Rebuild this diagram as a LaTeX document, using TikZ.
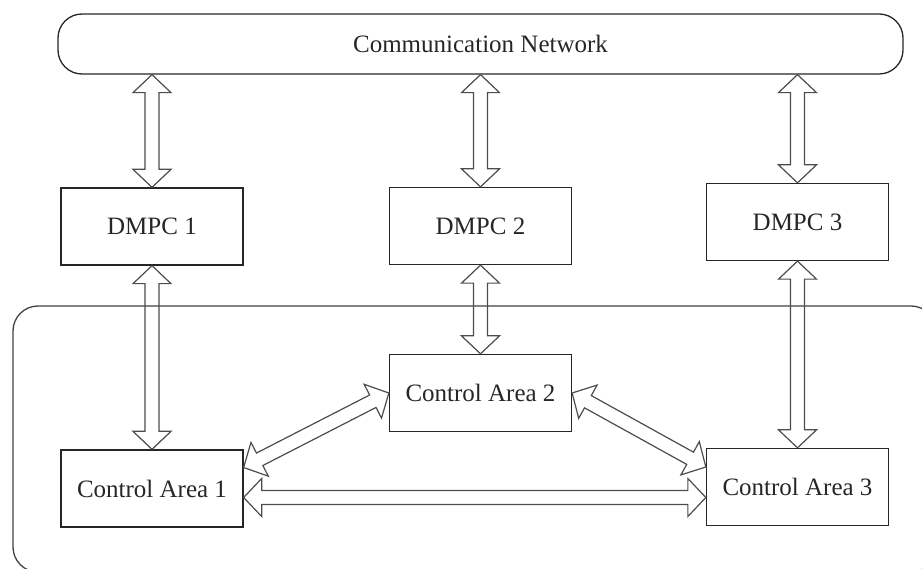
\documentclass[tikz,border=0pt]{standalone}
\usepackage{fontspec}
\setmainfont{Liberation Serif}
\usetikzlibrary{calc}
\tikzset{
  lbl/.style={font=\fontsize{25}{30}\selectfont, text=black!85},
  box/.style={lbl, draw=black!85, line width=1.3pt, minimum width=182pt, minimum height=77pt, inner sep=0pt},
  dbl/.style={draw=black!70, line width=1.2pt, line join=miter,
    to path={let \p1=(\tikztostart), \p2=(\tikztotarget),
      \n1={atan2(\y2-\y1,\x2-\x1)} in
      -- ($(\p1)+(\n1:18pt)+(\n1+90:19pt)$)
      -- ($(\p1)+(\n1:18pt)+(\n1+90:7pt)$)
      -- ($(\p2)+(\n1+180:18pt)+(\n1+90:7pt)$)
      -- ($(\p2)+(\n1+180:18pt)+(\n1+90:19pt)$)
      -- (\p2)
      -- ($(\p2)+(\n1+180:18pt)+(\n1-90:19pt)$)
      -- ($(\p2)+(\n1+180:18pt)+(\n1-90:7pt)$)
      -- ($(\p1)+(\n1:18pt)+(\n1-90:7pt)$)
      -- ($(\p1)+(\n1:18pt)+(\n1-90:19pt)$)
      -- cycle}}
}
\begin{document}
\begin{tikzpicture}[x=1pt,y=-1pt]
\useasboundingbox (0,0) rectangle (922,569);
\begin{scope}
  \clip (0,0) rectangle (922,569);
  \draw[black!75, line width=1.3pt, rounded corners=25pt] (13,306) rectangle (936,572);
\end{scope}

\node[lbl, draw=black!85, line width=1.3pt, rounded corners=24pt, minimum width=845pt, minimum height=60pt, inner sep=0pt] (net) at (480.5,44) {Communication Network};

\node[box] (d1) at (152,226.5) {DMPC 1};
\node[box] (d2) at (480.5,226) {DMPC 2};
\node[box] (d3) at (797.5,222) {DMPC 3};

\node[box] (c1) at (152,488.5) {Control Area 1};
\node[box] (c2) at (480.5,393) {Control Area 2};
\node[box] (c3) at (797.5,487) {Control Area 3};

\draw[dbl] (net.south -| d1.north) to (d1.north);
\draw[dbl] (net.south -| d2.north) to (d2.north);
\draw[dbl] (net.south -| d3.north) to (d3.north);

\draw[dbl] (d1.south) to (c1.north);
\draw[dbl] (d2.south) to (c2.north);
\draw[dbl] (d3.south) to (c3.north);

\coordinate (a1) at ($(c1.east)+(0,-21)$);
\coordinate (a3) at ($(c3.west)+(0,-20)$);
\coordinate (h1) at ($(c1.east)+(0,9)$);
\draw[dbl] (a1) to (c2.west);
\draw[dbl] (c2.east) to (a3);
\draw[dbl] (h1) to (c3.west |- h1);
\end{tikzpicture}
\end{document}
